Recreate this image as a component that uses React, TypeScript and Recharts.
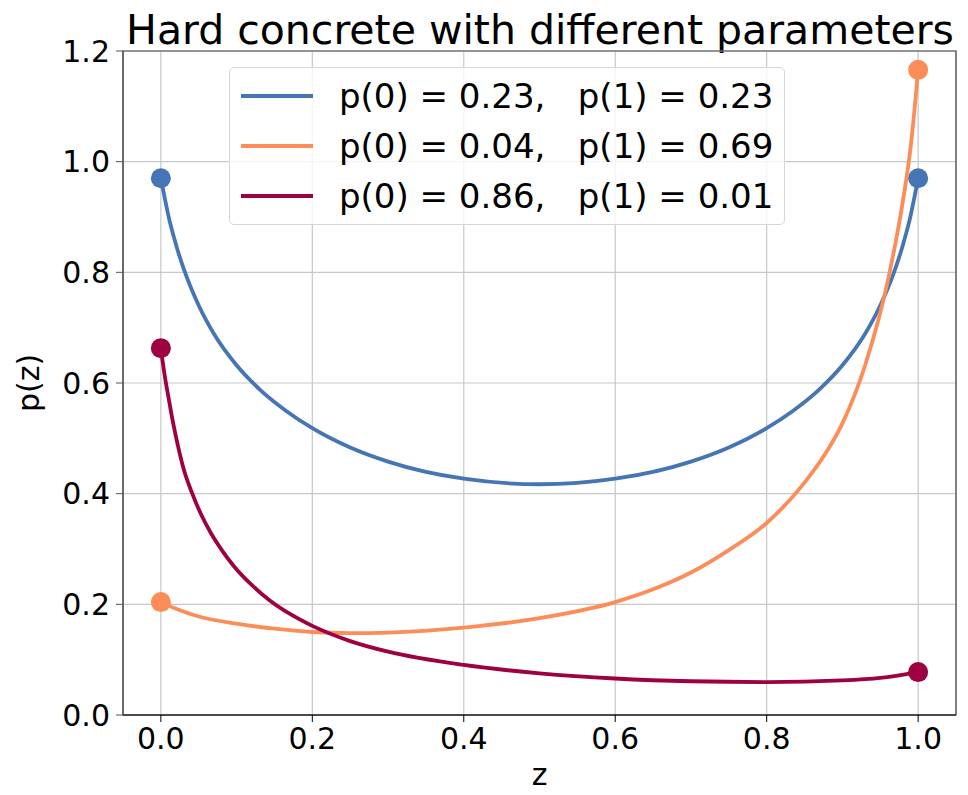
import React from 'react';
import { LineChart, Line, XAxis, YAxis, CartesianGrid, ReferenceArea, Label } from 'recharts';

const xTicks = [0, 0.2, 0.4, 0.6, 0.8, 1.0];
const yTicks = [0, 0.2, 0.4, 0.6, 0.8, 1.0, 1.2];

const blueZ = [0, 0.005, 0.01, 0.02, 0.03, 0.05, 0.07, 0.1, 0.13, 0.165, 0.2, 0.25, 0.3, 0.4, 0.5, 0.6, 0.7, 0.75, 0.8, 0.835, 0.87, 0.9, 0.93, 0.95, 0.97, 0.98, 0.99, 0.995, 1];
const blueP = [0.97, 0.935, 0.902, 0.85, 0.807, 0.74, 0.689, 0.632, 0.589, 0.55, 0.5185, 0.4835, 0.458, 0.427, 0.417, 0.427, 0.458, 0.4835, 0.5185, 0.55, 0.589, 0.632, 0.689, 0.74, 0.807, 0.85, 0.902, 0.935, 0.97];

const orangeZ = [0, 0.02, 0.05, 0.1, 0.15, 0.2, 0.25, 0.3, 0.4, 0.5, 0.6, 0.66, 0.7, 0.75, 0.8, 0.85, 0.875, 0.9, 0.93, 0.96, 0.98, 0.99, 1];
const orangeP = [0.204, 0.192, 0.178, 0.165, 0.156, 0.15, 0.148, 0.149, 0.158, 0.175, 0.204, 0.2325, 0.2575, 0.298, 0.347, 0.42, 0.467, 0.527, 0.632, 0.785, 0.93, 1.025, 1.166];

const redZ = [0, 0.005, 0.0106, 0.015, 0.019, 0.03, 0.0415, 0.054, 0.066, 0.08, 0.097, 0.12, 0.143, 0.17, 0.2, 0.25, 0.3, 0.4, 0.5, 0.6, 0.7, 0.8, 0.9, 0.95, 1];
const redP = [0.663, 0.614, 0.57, 0.536, 0.509, 0.445, 0.4, 0.36, 0.329, 0.299, 0.268, 0.235, 0.208, 0.183, 0.161, 0.1335, 0.1144, 0.0904, 0.0754, 0.066, 0.061, 0.0595, 0.0625, 0.067, 0.0775];

const seriesNames = [
  'p(0) = 0.23,   p(1) = 0.23',
  'p(0) = 0.04,   p(1) = 0.69',
  'p(0) = 0.86,   p(1) = 0.01',
];
const colors = ['#4575b4', '#fc8d59', '#9e0142'];

const build = (zs: number[], ps: number[]) => zs.map((z, i) => ({ z, p: ps[i] }));
const series = [build(blueZ, blueP), build(orangeZ, orangeP), build(redZ, redP)];

const FONT = '"DejaVu Sans", sans-serif';

const endDot = (color: string, n: number) => (props: any) => {
  const { cx, cy, index } = props;
  if (index === 0 || index === n - 1) {
    return <circle key={`d-${index}`} cx={cx} cy={cy} r={10} fill={color} stroke="none" />;
  }
  return <g key={`d-${index}`} />;
};

export default function App() {
  return (
    <div style={{ position: 'absolute', left: 0, top: 0, width: 968, height: 795, background: '#fff', fontFamily: FONT }}>
      <div style={{ position: 'absolute', left: 0, width: 968, top: 8, textAlign: 'center', paddingLeft: 112, boxSizing: 'border-box', fontSize: 41, lineHeight: '44px', color: '#000', whiteSpace: 'nowrap' }}>
        Hard concrete with different parameters
      </div>
      <LineChart width={968} height={795} margin={{ top: 51, right: 12, left: 0, bottom: 0 }}>
        <CartesianGrid stroke="#c8c8c8" strokeWidth={1.2} horizontal vertical />
        <XAxis
          dataKey="z"
          type="number"
          domain={[-0.05, 1.05]}
          ticks={xTicks}
          allowDuplicatedCategory={false}
          tickFormatter={(v: number) => v.toFixed(1)}
          height={80}
          tickSize={7}
          tickMargin={6}
          stroke="#000"
          tick={{ fill: '#000', fontSize: 30, fontFamily: FONT }}
        >
          <Label value="z" position="insideBottom" offset={10} style={{ fill: '#000', fontSize: 30, fontFamily: FONT }} />
        </XAxis>
        <YAxis
          type="number"
          domain={[0, 1.2]}
          ticks={yTicks}
          tickFormatter={(v: number) => v.toFixed(1)}
          width={123}
          tickSize={7}
          tickMargin={6}
          stroke="#555"
          tick={{ fill: '#000', fontSize: 30, fontFamily: FONT }}
        >
          <Label value="p(z)" angle={-90} position="insideLeft" offset={28} style={{ fill: '#000', fontSize: 30, fontFamily: FONT, textAnchor: 'middle' }} />
        </YAxis>
        <ReferenceArea x1={-0.05} x2={1.05} y1={0} y2={1.2} fill="none" stroke="#444" strokeWidth={1.2} ifOverflow="visible" />
        {series.map((d, i) => (
          <Line
            key={i}
            data={d}
            dataKey="p"
            type="monotone"
            stroke={colors[i]}
            strokeWidth={3.8}
            dot={endDot(colors[i], d.length)}
            activeDot={false}
            isAnimationActive={false}
            name={seriesNames[i]}
          />
        ))}
      </LineChart>
      <div
        style={{
          position: 'absolute',
          left: 229,
          top: 67,
          width: 556,
          height: 158,
          boxSizing: 'border-box',
          border: '1.5px solid #d6d6d6',
          borderRadius: 5,
          background: 'rgba(255,255,255,0.8)',
        }}
      >
        {seriesNames.map((name, i) => (
          <div key={i} style={{ position: 'absolute', left: 0, top: 3 + i * 50, height: 50, display: 'flex', alignItems: 'center' }}>
            <div style={{ marginLeft: 11, width: 72, height: 4, background: colors[i] }} />
            <span style={{ marginLeft: 26, fontSize: 34, color: '#000', whiteSpace: 'pre' }}>{name}</span>
          </div>
        ))}
      </div>
    </div>
  );
}
